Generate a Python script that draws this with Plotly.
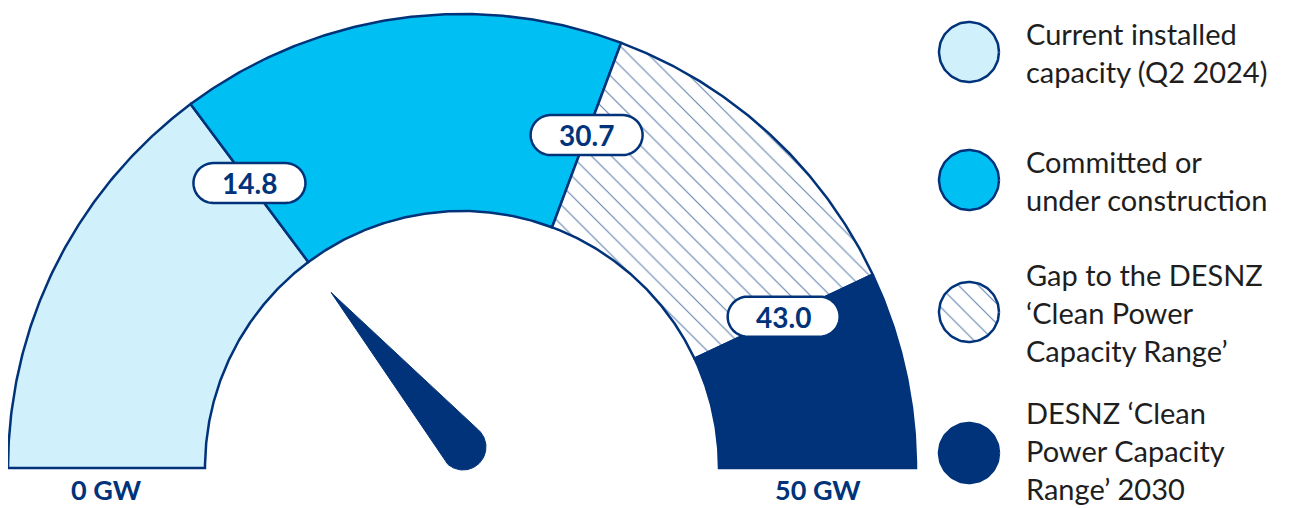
import numpy as np
import plotly.graph_objects as go

# ---------------- data ----------------
max_gw = 50
segment_bounds = [0, 14.8, 30.7, 43.0, 50]
segment_names = [
    "Current installed capacity (Q2 2024)",
    "Committed or under construction",
    "Gap to the DESNZ ‘Clean Power Capacity Range’",
    "DESNZ ‘Clean Power Capacity Range’ 2030",
]
legend_lines = [
    ["Current installed", "capacity (Q2 2024)"],
    ["Committed or", "under construction"],
    ["Gap to the DESNZ", "‘Clean Power", "Capacity Range’"],
    ["DESNZ ‘Clean", "Power Capacity", "Range’ 2030"],
]
marker_values = [14.8, 30.7, 43.0]
marker_labels = ["14.8", "30.7", "43.0"]
needle_value = 14.8
end_labels = ["0 GW", "50 GW"]

# ---------------- style / layout ----------------
OFF = 8                    # page body margin
W, H = 1301 - OFF, 508 - OFF
CX, CY = 462, 468          # gauge centre in window pixels
PX = 454.0                 # pixels per data unit (outer radius)
R_OUT = 1.0
R_IN = 257 / PX
R_MID = (R_OUT + R_IN) / 2

NAVY = "#00337A"
LIGHT = "#D0F0FB"
CYAN = "#00C0F3"
TEXT = "#1E1E1E"
FONT = "Lato"

def X(px):  # window pixel -> data
    return (px - CX) / PX

def Y(py):
    return (CY - py) / PX

def ang(v):
    return np.pi * (1 - v / max_gw)

hatch = dict(shape="\\", fgcolor=NAVY, bgcolor="white", size=14, solidity=0.08, fgopacity=0.6)
seg_styles = [
    dict(fillcolor=LIGHT),
    dict(fillcolor=CYAN),
    dict(fillcolor="white", fillpattern=hatch),
    dict(fillcolor=NAVY),
]

fig = go.Figure()

# gauge segments
for i in range(4):
    a0, a1 = ang(segment_bounds[i]), ang(segment_bounds[i + 1])
    t = np.linspace(a0, a1, 120)
    xs = np.concatenate([R_OUT * np.cos(t), R_IN * np.cos(t[::-1]), [R_OUT * np.cos(t[0])]])
    ys = np.concatenate([R_OUT * np.sin(t), R_IN * np.sin(t[::-1]), [R_OUT * np.sin(t[0])]])
    fig.add_trace(go.Scatter(
        x=xs, y=ys, mode="lines", fill="toself",
        line=dict(color=NAVY, width=2.5), hoverinfo="skip",
        showlegend=False, name=segment_names[i], **seg_styles[i]))

# needle
pivot = np.array([X(463), Y(447)])
r_piv = 23 / PX
tip_r = 219 / PX
ta = ang(needle_value)
tip = np.array([tip_r * np.cos(ta), tip_r * np.sin(ta)])
d = tip - pivot
L = np.hypot(*d)
theta = np.arctan2(d[1], d[0])
phi = np.arccos(r_piv / L)
arc = np.linspace(theta + phi, theta + 2 * np.pi - phi, 80)
nx = np.concatenate([[tip[0]], pivot[0] + r_piv * np.cos(arc), [tip[0]]])
ny = np.concatenate([[tip[1]], pivot[1] + r_piv * np.sin(arc), [tip[1]]])
fig.add_trace(go.Scatter(x=nx, y=ny, mode="lines", fill="toself", fillcolor=NAVY,
                         line=dict(color=NAVY, width=1), hoverinfo="skip", showlegend=False))

# value pills
pw, ph = 112, 40
rr = ph / 2
tt = np.linspace(-np.pi / 2, np.pi / 2, 25)
right = [((pw / 2 - rr) + rr * np.cos(a), rr * np.sin(a)) for a in tt]
left = [(-(pw / 2 - rr) - rr * np.cos(a), -rr * np.sin(a)) for a in tt]
pts = right + left
pill_path = "M " + " L ".join(f"{x:.2f},{y:.2f}" for x, y in pts) + " Z"
for v, lab in zip(marker_values, marker_labels):
    a = ang(v)
    xa, ya = R_MID * np.cos(a), R_MID * np.sin(a)
    fig.add_shape(type="path", xref="x", yref="y", xsizemode="pixel", ysizemode="pixel",
                  xanchor=xa, yanchor=ya, path=pill_path,
                  fillcolor="white", line=dict(color=NAVY, width=2.5), layer="above")
    fig.add_annotation(x=xa, y=ya, text=f"<b>{lab}</b>", showarrow=False,
                       font=dict(family=FONT, size=28, color=NAVY),
                       xanchor="center", yanchor="middle")

# end labels
for v, lab in zip([0, max_gw], end_labels):
    fig.add_annotation(x=R_MID * np.cos(ang(v)), y=Y(489), text=f"<b>{lab}</b>", showarrow=False,
                       font=dict(family=FONT, size=27, color=NAVY),
                       xanchor="center", yanchor="middle", borderpad=0)

# legend (drawn manually)
leg_y = [52, 180, 312, 453]
text_mid = [52, 180, 312, 450]
leg_cx = 969
leg_r = 30 / PX
line_gap = 38
tc = np.linspace(0, 2 * np.pi, 100)
for i in range(4):
    cx, cy = X(leg_cx), Y(leg_y[i])
    fig.add_trace(go.Scatter(
        x=cx + leg_r * np.cos(tc), y=cy + leg_r * np.sin(tc), mode="lines", fill="toself",
        line=dict(color=NAVY, width=2.5), hoverinfo="skip", showlegend=False,
        name=segment_names[i], **seg_styles[i]))
    n = len(legend_lines[i])
    for j, txt in enumerate(legend_lines[i]):
        py = text_mid[i] + (j - (n - 1) / 2) * line_gap
        fig.add_annotation(x=X(1025), y=Y(py), text=txt, showarrow=False,
                           xanchor="left", yanchor="middle", align="left", borderpad=0,
                           font=dict(family=FONT, size=29, color=TEXT))

fig.update_layout(
    width=W, height=H, margin=dict(l=0, r=0, t=0, b=0),
    paper_bgcolor="white", plot_bgcolor="white",
    xaxis=dict(range=[X(OFF), X(OFF + W)], visible=False, fixedrange=True),
    yaxis=dict(range=[Y(OFF + H), Y(OFF)], visible=False, fixedrange=True),
    showlegend=False,
)

fig.write_html("out.html")
